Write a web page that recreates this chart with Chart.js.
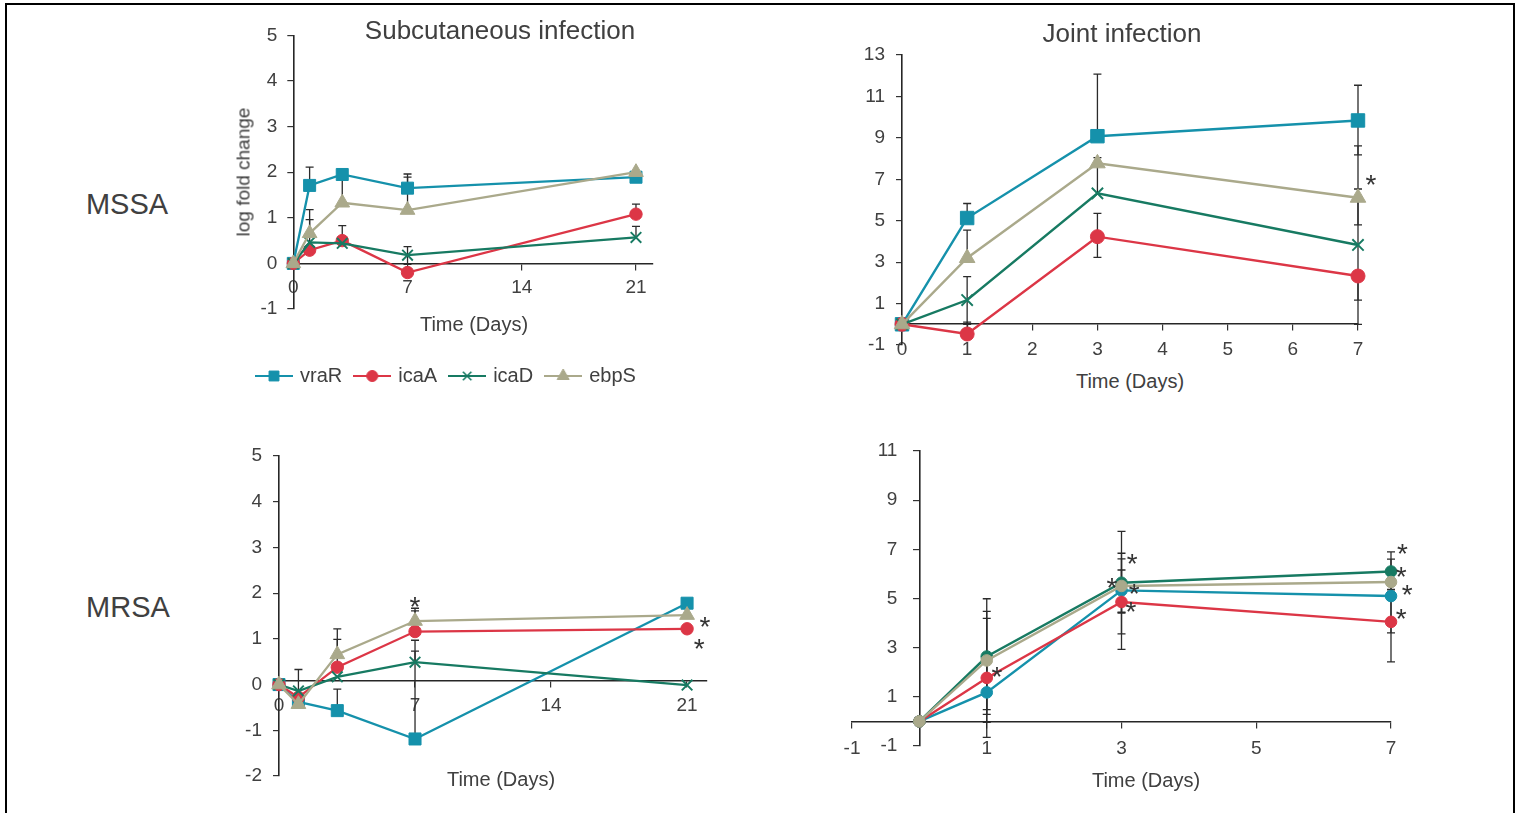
<!DOCTYPE html>
<html><head><meta charset="utf-8">
<script src="https://cdn.jsdelivr.net/npm/chart.js@4.4.1/dist/chart.umd.min.js"></script>
<style>
html,body{margin:0;padding:0;background:#fff;width:1522px;height:813px;overflow:hidden;font-family:"Liberation Sans",Arial,sans-serif;}
#frame{position:absolute;left:5px;top:3px;width:1510px;height:840px;border:2.5px solid #000;border-bottom:none;box-sizing:border-box;}
canvas{position:absolute;}
.t{position:absolute;color:#404040;white-space:nowrap;line-height:1;transform:translate(-50%,-50%);z-index:2;}
</style></head><body>
<div id="frame"></div>
<canvas id="tl" style="left:200px;top:14px" width="470" height="386"></canvas>
<canvas id="tr" style="left:840px;top:30px" width="540" height="340"></canvas>
<canvas id="bl" style="left:210px;top:430px" width="520" height="370"></canvas>
<canvas id="br" style="left:800px;top:430px" width="620" height="370"></canvas>
<div class="t" style="left:127px;top:204px;font-size:29px">MSSA</div>
<div class="t" style="left:128px;top:607px;font-size:29px">MRSA</div>
<div class="t" style="left:500px;top:30px;font-size:26px">Subcutaneous infection</div>
<div class="t" style="left:1122px;top:33px;font-size:26px">Joint infection</div>
<div class="t" style="left:243px;top:172px;font-size:19px;transform:translate(-50%,-50%) rotate(-90deg)">log fold change</div>
<div class="t" style="left:474px;top:324px;font-size:20px">Time (Days)</div>
<div class="t" style="left:1130px;top:381px;font-size:20px">Time (Days)</div>
<div class="t" style="left:501px;top:779px;font-size:20px">Time (Days)</div>
<div class="t" style="left:1146px;top:780px;font-size:20px">Time (Days)</div>
<script>
// ---------- DATA ----------
const genes = ['vraR', 'icaA', 'icaD', 'ebpS'];
const daysSubcut = [0, 1, 3, 7, 21];
const daysJoint = [0, 1, 3, 7];

// MSSA, subcutaneous infection (rows: vraR, icaA, icaD, ebpS)
const mssaSubValues = [
  [0, 1.71, 1.95, 1.65, 1.89],
  [0, 0.29, 0.50, -0.20, 1.08],
  [0, 0.46, 0.44, 0.18, 0.57],
  [0, 0.66, 1.33, 1.17, 2.00]
];
const mssaSubErrUp = [
  [0, 0.40, 0, 0.31, 0.05],
  [0, 0, 0.33, 0, 0.22],
  [0, 0.50, 0, 0.19, 0.24],
  [0, 0.52, 0, 0.72, 0]
];
const mssaSubErrDown = [
  [0, 0, 0.62, 0, 0],
  [0, 0, 0, 0, 0],
  [0, 0, 0, 0.20, 0],
  [0, 0, 0, 0, 0]
];

// MSSA, joint infection
const mssaJointValues = [
  [0, 5.13, 9.08, 9.84],
  [0, -0.47, 4.23, 2.33],
  [0, 1.17, 6.32, 3.83],
  [0, 3.20, 7.77, 6.11]
];
const mssaJointErrUp = [
  [0, 0.70, 3.00, 1.70],
  [0, 0.57, 1.12, 0],
  [0, 1.13, 1.73, 2.70],
  [0, 1.35, 0, 2.50]
];
const mssaJointErrDown = [
  [0, 0, 0, 1.66],
  [0, 0, 1.00, 2.33],
  [0, 1.17, 0, 2.66],
  [0, 0, 0, 1.31]
];
const mssaJointStarX = [7.2];
const mssaJointStarY = [7.05];

// MRSA, subcutaneous infection
const mrsaSubValues = [
  [0, -0.38, -0.57, -1.19, 1.78],
  [0, -0.28, 0.38, 1.16, 1.22],
  [0, -0.14, 0.17, 0.49, -0.01],
  [0, -0.43, 0.66, 1.39, 1.52]
];
const mrsaSubErrUp = [
  [0, 0, 0.47, 1.92, 0.09],
  [0, 0, 0.61, 0.45, 0],
  [0, 0.47, 0, 0.48, 0],
  [0, 0, 0.56, 0.28, 0]
];
const mrsaSubStarX = [7.0, 21.92, 21.62];
const mrsaSubStarY = [1.86, 1.42, 0.94];

// MRSA, joint infection
const mrsaJointValues = [
  [0, 1.18, 5.33, 5.10],
  [0, 1.77, 4.86, 4.05],
  [0, 2.64, 5.64, 6.10],
  [0, 2.48, 5.51, 5.67]
];
const mrsaJointErr = [
  [0, 1.22, 2.40, 1.50],
  [0, 2.42, 1.30, 1.63],
  [0, 2.35, 1.20, 0.80],
  [0, 2.00, 1.10, 0.30]
];
const mrsaJointStarX = [1.15, 2.86, 3.16, 3.19, 3.14, 7.17, 7.15, 7.24, 7.15];
const mrsaJointStarY = [2.11, 5.69, 6.67, 5.45, 4.72, 7.11, 6.14, 5.41, 4.43];

// tick labels
const subcutXTicks = [0, 7, 14, 21];
const mssaSubYTicks = [-1, 0, 1, 2, 3, 4, 5];
const mrsaSubYTicks = [-2, -1, 0, 1, 2, 3, 4, 5];
const mssaJointXTicks = [0, 1, 2, 3, 4, 5, 6, 7];
const mssaJointYTicks = [-1, 1, 3, 5, 7, 9, 11, 13];
const mrsaJointXTicks = [-1, 1, 3, 5, 7];
const mrsaJointYTicks = [-1, 1, 3, 5, 7, 9, 11];

// ---------- STYLE ----------
const FONT = "'Liberation Sans', Arial, sans-serif";
const TICK_FONT_SIZE = 19;
const seriesColors = ['#1591ab', '#dc3646', '#177a62', '#aaa98b'];
const shapeMarkers = ['rect', 'circle', 'crossRot', 'triangle'];
const circleMarkers = ['circle', 'circle', 'circle', 'circle'];

function buildDatasets(days, values, errUp, errDown, markers, radii, lw) {
  return genes.map((g, i) => ({
    label: g,
    order: genes.length - i,          // later series drawn on top, as in the source
    data: days.map((d, j) => ({x: d, y: values[i][j]})),
    errUp: errUp ? errUp[i] : null,
    errDown: errDown ? errDown[i] : null,
    borderColor: seriesColors[i],
    backgroundColor: seriesColors[i],
    pointBackgroundColor: seriesColors[i],
    pointBorderColor: seriesColors[i],
    pointStyle: markers[i],
    pointRadius: radii[i],
    pointHoverRadius: radii[i],
    pointBorderWidth: markers[i] === 'crossRot' ? 1.9 : 1,
    borderWidth: lw,
    tension: 0,
    clip: false
  }));
}

const errorBars = {
  id: 'errorBars',
  beforeDatasetsDraw(chart) {
    const {ctx} = chart;
    const xs = chart.scales.x, ys = chart.scales.y;
    ctx.save();
    ctx.strokeStyle = '#2b2b2b';
    ctx.lineWidth = 1.3;
    chart.data.datasets.forEach(ds => {
      ds.data.forEach((pt, j) => {
        const up = ds.errUp ? ds.errUp[j] : 0;
        const dn = ds.errDown ? ds.errDown[j] : 0;
        if (!up && !dn) return;
        const px = xs.getPixelForValue(pt.x);
        const top = ys.getPixelForValue(pt.y + up);
        const bot = ys.getPixelForValue(pt.y - dn);
        ctx.beginPath();
        ctx.moveTo(px, top); ctx.lineTo(px, bot);
        if (up) { ctx.moveTo(px - 4, top); ctx.lineTo(px + 4, top); }
        if (dn) { ctx.moveTo(px - 4, bot); ctx.lineTo(px + 4, bot); }
        ctx.stroke();
      });
    });
    ctx.restore();
  }
};

function starsPlugin(sx, sy) {
  return {
    id: 'stars',
    afterDatasetsDraw(chart) {
      const {ctx} = chart;
      const size = 28;
      ctx.save();
      ctx.fillStyle = '#333333';
      ctx.font = size + 'px ' + FONT;
      ctx.textAlign = 'center';
      ctx.textBaseline = 'alphabetic';
      sx.forEach((x, k) => {
        const px = chart.scales.x.getPixelForValue(x);
        const py = chart.scales.y.getPixelForValue(sy[k]);
        ctx.fillText('*', px, py + size * 0.57);
      });
      ctx.restore();
    }
  };
}

// draws the y tick labels of an axis that crosses the plot (position {x: value})
function crossingYLabels(gap) {
  return {
    id: 'crossingYLabels',
    afterDraw(chart) {
      const {ctx} = chart;
      const ys = chart.scales.y;
      const axisX = chart.scales.x.getPixelForValue(ys.options.position.x);
      ctx.save();
      ctx.fillStyle = '#404040';
      ctx.font = TICK_FONT_SIZE + 'px ' + FONT;
      ctx.textAlign = 'right';
      ctx.textBaseline = 'middle';
      ys.ticks.forEach(t => {
        ctx.fillText(t.label, axisX - gap, ys.getPixelForValue(t.value));
      });
      ctx.restore();
    }
  };
}

function axis(o) {
  const a = {
    type: 'linear',
    min: o.min, max: o.max,
    position: o.position,
    afterBuildTicks: s => { s.ticks = o.ticks.map(v => ({value: v})); },
    grid: {display: true, drawOnChartArea: false, drawTicks: true, tickLength: 6, color: '#333333', lineWidth: 1.2},
    border: {display: true, color: '#262626', width: 1.6},
    ticks: {display: o.showLabels !== false, color: '#404040', font: {family: FONT, size: TICK_FONT_SIZE}, padding: o.pad, autoSkip: false, maxRotation: 0, minRotation: 0, includeBounds: false}
  };
  if (o.width) a.afterFit = s => { s.width = o.width; };
  return a;
}

function makeLegendIcon(color, marker, radius) {
  const c = document.createElement('canvas');
  c.width = 38; c.height = 16;
  const g = c.getContext('2d');
  g.strokeStyle = color; g.fillStyle = color; g.lineWidth = 2.2;
  g.beginPath(); g.moveTo(0, 8); g.lineTo(38, 8); g.stroke();
  g.lineWidth = marker === 'crossRot' ? 1.6 : 1;
  Chart.helpers.drawPoint(g, {pointStyle: marker, radius: radius, borderWidth: g.lineWidth, rotation: 0}, 19, 8);
  return c;
}

function baseOptions(padding, xAxis, yAxis) {
  return {
    responsive: false, animation: false, devicePixelRatio: 1, events: [],
    layout: {padding: padding},
    scales: {x: xAxis, y: yAxis},
    plugins: {legend: {display: false}, tooltip: {enabled: false}}
  };
}

// ---------- MSSA subcutaneous ----------
const legendIcons = [
  makeLegendIcon(seriesColors[0], 'rect', 7),
  makeLegendIcon(seriesColors[1], 'circle', 5.5),
  makeLegendIcon(seriesColors[2], 'crossRot', 6),
  makeLegendIcon(seriesColors[3], 'triangle', 7)
];
const tlOpts = baseOptions({left: 44, right: 17.7, top: 15, bottom: 4},
  axis({min: 0, max: 22, ticks: subcutXTicks, position: {y: 0}, pad: 7}),
  axis({min: -1, max: 5, ticks: mssaSubYTicks, position: 'left', pad: 10, width: 49.3}));
tlOpts.plugins.legend = {
  display: true, position: 'bottom', align: 'start',
  title: {display: true, text: '', font: {size: 10}, padding: {top: 0, bottom: 31}},
  labels: {
    usePointStyle: true, pointStyleWidth: 32, padding: 14, color: '#404040',
    font: {family: FONT, size: 20},
    generateLabels: chart => chart.data.datasets.map((ds, i) => ({
      text: ds.label, pointStyle: legendIcons[i], fillStyle: 'rgba(0,0,0,0)',
      strokeStyle: 'rgba(0,0,0,0)', lineWidth: 0, hidden: false, datasetIndex: i, fontColor: '#404040'
    }))
  }
};
new Chart(document.getElementById('tl'), {
  type: 'line',
  data: {datasets: buildDatasets(daysSubcut, mssaSubValues, mssaSubErrUp, mssaSubErrDown, shapeMarkers, [8.5, 6.2, 7.5, 8.5], 2.3)},
  options: tlOpts,
  plugins: [errorBars]
});

// ---------- MSSA joint ----------
new Chart(document.getElementById('tr'), {
  type: 'line',
  data: {datasets: buildDatasets(daysJoint, mssaJointValues, mssaJointErrUp, mssaJointErrDown, shapeMarkers, [9.5, 7, 8, 9], 2.4)},
  options: baseOptions({left: 2, right: 22, top: 25, bottom: 25},
    axis({min: 0, max: 7, ticks: mssaJointXTicks, position: {y: 0}, pad: 8}),
    axis({min: -1, max: 13, ticks: mssaJointYTicks, position: 'left', pad: 11, width: 60})),
  plugins: [errorBars, starsPlugin(mssaJointStarX, mssaJointStarY)]
});

// ---------- MRSA subcutaneous ----------
new Chart(document.getElementById('bl'), {
  type: 'line',
  data: {datasets: buildDatasets(daysSubcut, mrsaSubValues, mrsaSubErrUp, null, shapeMarkers, [8.5, 6.2, 7.5, 8.5], 2.3)},
  options: baseOptions({left: 9, right: 23.5, top: 26, bottom: 24},
    axis({min: 0, max: 22, ticks: subcutXTicks, position: {y: 0.09}, pad: 8}),
    axis({min: -2, max: 5, ticks: mrsaSubYTicks, position: 'left', pad: 11, width: 60})),
  plugins: [errorBars, starsPlugin(mrsaSubStarX, mrsaSubStarY)]
});

// ---------- MRSA joint ----------
new Chart(document.getElementById('br'), {
  type: 'line',
  data: {datasets: buildDatasets(daysJoint, mrsaJointValues, mrsaJointErr, mrsaJointErr, circleMarkers, [5.8, 5.8, 5.8, 5.8], 2.4)},
  options: baseOptions({left: 52, right: 29, top: 21, bottom: 54},
    axis({min: -1, max: 7, ticks: mrsaJointXTicks, position: {y: 0}, pad: 10}),
    axis({min: -1, max: 11, ticks: mrsaJointYTicks, position: {x: 0}, showLabels: false})),
  plugins: [errorBars, starsPlugin(mrsaJointStarX, mrsaJointStarY), crossingYLabels(22)]
});
</script>
</body></html>
